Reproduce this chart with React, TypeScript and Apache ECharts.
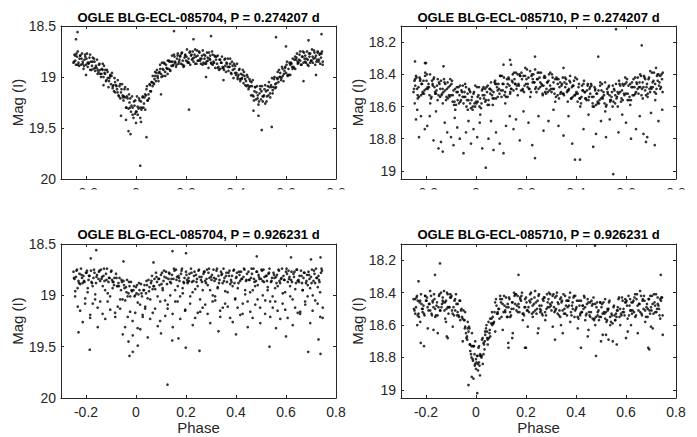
import React, { useEffect, useRef } from "react";
import * as echarts from "echarts";

const titles = [
  "OGLE BLG-ECL-085704, P = 0.274207 d",
  "OGLE BLG-ECL-085710, P = 0.274207 d",
  "OGLE BLG-ECL-085704, P = 0.926231 d",
  "OGLE BLG-ECL-085710, P = 0.926231 d",
];
const phaseTicks = [-0.2, 0, 0.2, 0.4, 0.6, 0.8];
const magTicks704 = [18.5, 19, 19.5, 20];
const magTicks710 = [18.2, 18.4, 18.6, 18.8, 19];
const phaseRange = [-0.3, 0.8];
const magRange704 = [18.5, 20];
const magRange710 = [18.1, 19.05];

// OGLE BLG-ECL-085704 folded with P = 0.274207 d
const star704P1 = [
[-0.25,18.86],[-0.246,18.78],[-0.243,18.84],[-0.24,18.88],[-0.236,18.80],[-0.233,18.75],
[-0.23,18.86],[-0.226,18.82],[-0.223,18.79],[-0.22,18.88],[-0.216,18.77],[-0.213,18.85],
[-0.21,18.92],[-0.206,18.83],[-0.203,18.80],[-0.2,18.88],[-0.196,18.77],[-0.193,18.90],
[-0.19,18.87],[-0.186,18.81],[-0.183,18.93],[-0.18,18.85],[-0.176,18.89],[-0.173,18.81],
[-0.17,18.92],[-0.166,18.85],[-0.163,18.94],[-0.16,18.89],[-0.156,18.83],[-0.153,18.93],
[-0.15,18.95],[-0.146,18.87],[-0.143,18.93],[-0.14,19.00],[-0.136,18.92],[-0.133,18.87],
[-0.13,19.00],[-0.126,18.96],[-0.123,18.93],[-0.12,19.04],[-0.116,18.93],[-0.113,19.01],
[-0.11,19.10],[-0.106,19.01],[-0.103,18.98],[-0.1,19.07],[-0.096,18.96],[-0.093,19.09],
[-0.09,19.08],[-0.086,19.01],[-0.083,19.15],[-0.08,19.08],[-0.076,19.12],[-0.073,19.03],
[-0.07,19.18],[-0.066,19.09],[-0.063,19.21],[-0.06,19.15],[-0.056,19.07],[-0.053,19.20],
[-0.05,19.23],[-0.046,19.12],[-0.043,19.20],[-0.04,19.30],[-0.036,19.19],[-0.033,19.12],
[-0.03,19.31],[-0.026,19.25],[-0.023,19.21],[-0.02,19.34],[-0.016,19.19],[-0.013,19.30],
[-0.01,19.40],[-0.006,19.28],[-0.003,19.23],[0,19.34],[0.004,19.19],[0.007,19.37],
[0.01,19.31],[0.014,19.23],[0.017,19.40],[0.02,19.24],[0.024,19.30],[0.027,19.19],
[0.03,19.30],[0.034,19.20],[0.037,19.32],[0.04,19.18],[0.044,19.09],[0.047,19.23],
[0.05,19.17],[0.054,19.07],[0.057,19.14],[0.06,19.14],[0.064,19.05],[0.067,18.99],
[0.07,19.06],[0.074,19.02],[0.077,18.99],[0.08,19.04],[0.084,18.93],[0.087,19.01],
[0.09,19.04],[0.094,18.95],[0.097,18.92],[0.1,18.97],[0.104,18.86],[0.107,18.99],
[0.11,18.93],[0.114,18.87],[0.117,18.99],[0.12,18.88],[0.124,18.92],[0.127,18.84],
[0.13,18.92],[0.134,18.85],[0.137,18.94],[0.14,18.85],[0.144,18.79],[0.147,18.89],
[0.15,18.88],[0.154,18.80],[0.157,18.86],[0.16,18.90],[0.164,18.82],[0.167,18.77],
[0.17,18.87],[0.174,18.83],[0.177,18.80],[0.18,18.87],[0.184,18.76],[0.187,18.84],
[0.19,18.90],[0.194,18.81],[0.197,18.78],[0.2,18.84],[0.204,18.73],[0.207,18.86],
[0.21,18.82],[0.214,18.76],[0.217,18.88],[0.22,18.79],[0.224,18.83],[0.227,18.75],
[0.23,18.85],[0.234,18.78],[0.237,18.87],[0.24,18.80],[0.244,18.74],[0.247,18.84],
[0.25,18.84],[0.254,18.76],[0.257,18.82],[0.26,18.87],[0.264,18.79],[0.267,18.74],
[0.27,18.86],[0.274,18.82],[0.277,18.79],[0.28,18.87],[0.284,18.76],[0.287,18.84],
[0.29,18.91],[0.294,18.82],[0.297,18.79],[0.3,18.86],[0.304,18.75],[0.307,18.88],
[0.31,18.85],[0.314,18.79],[0.317,18.91],[0.32,18.83],[0.324,18.87],[0.327,18.79],
[0.33,18.90],[0.334,18.83],[0.337,18.92],[0.34,18.86],[0.344,18.80],[0.347,18.90],
[0.35,18.91],[0.354,18.83],[0.357,18.89],[0.36,18.95],[0.364,18.87],[0.367,18.82],
[0.37,18.94],[0.374,18.90],[0.377,18.87],[0.38,18.96],[0.384,18.85],[0.387,18.93],
[0.39,19.01],[0.394,18.92],[0.397,18.89],[0.4,18.98],[0.404,18.87],[0.407,19.00],
[0.41,18.98],[0.414,18.92],[0.417,19.04],[0.42,18.97],[0.424,19.01],[0.427,18.93],
[0.43,19.06],[0.434,18.99],[0.437,19.08],[0.44,19.04],[0.444,18.98],[0.447,19.08],
[0.45,19.12],[0.454,19.02],[0.457,19.09],[0.46,19.18],[0.464,19.09],[0.467,19.03],
[0.47,19.19],[0.474,19.14],[0.477,19.10],[0.48,19.22],[0.484,19.09],[0.487,19.18],
[0.49,19.27],[0.494,19.16],[0.497,19.12],[0.5,19.22],[0.504,19.09],[0.507,19.24],
[0.51,19.19],[0.514,19.12],[0.517,19.26],[0.52,19.14],[0.524,19.19],[0.527,19.09],
[0.53,19.18],[0.534,19.10],[0.537,19.20],[0.54,19.08],[0.544,19.01],[0.547,19.13],
[0.55,19.10],[0.554,19.00],[0.557,19.07],[0.56,19.10],[0.564,19.01],[0.567,18.95],
[0.57,19.05],[0.574,19.00],[0.577,18.96],[0.58,19.03],[0.584,18.90],[0.587,18.99],
[0.59,19.04],[0.594,18.94],[0.597,18.90],[0.6,18.96],[0.604,18.85],[0.607,18.98],
[0.61,18.92],[0.614,18.86],[0.617,18.98],[0.62,18.86],[0.624,18.90],[0.627,18.82],
[0.63,18.90],[0.634,18.83],[0.637,18.92],[0.64,18.83],[0.644,18.77],[0.647,18.87],
[0.65,18.86],[0.654,18.78],[0.657,18.84],[0.66,18.88],[0.664,18.80],[0.667,18.75],
[0.67,18.86],[0.674,18.82],[0.677,18.79],[0.68,18.86],[0.684,18.75],[0.687,18.83],
[0.69,18.89],[0.694,18.80],[0.697,18.77],[0.7,18.84],[0.704,18.73],[0.707,18.86],
[0.71,18.82],[0.714,18.76],[0.717,18.88],[0.72,18.79],[0.724,18.83],[0.727,18.75],
[0.73,18.85],[0.734,18.78],[0.737,18.87],[0.74,18.81],[0.744,18.75],[0.747,18.85],
[-0.234,18.56],[0.152,18.55],[0.56,18.61],[0.742,18.58],[0.017,19.87],[-0.03,19.53],
[-0.022,19.56],[0.042,19.59],[0.503,19.52],[0.543,19.49],[0.212,19.32],[-0.13,19.08],
[0.49,19.38],[0.47,19.33],[-0.06,19.38],[-0.04,19.42],[0.0,19.45],[0.02,19.44],
[0.67,19.04],[0.72,18.98],[-0.2,18.98],[0.1,19.17],[0.35,19.03],[0.28,19.0],
[0.6,18.7],[0.3,18.6],[0.23,18.63],[-0.24,18.63],[0.69,18.64],
];
const star704P1b = [
[-0.248,18.85],[-0.2435,18.79],[-0.238,18.77],[-0.2335,18.88],[-0.228,18.89],[-0.2235,18.79],
[-0.218,18.82],[-0.2135,18.87],[-0.208,18.89],[-0.2035,18.78],[-0.198,18.82],[-0.1935,18.86],
[-0.188,18.86],[-0.1835,18.78],[-0.178,18.93],[-0.1735,18.85],[-0.168,18.82],[-0.1635,18.91],
[-0.158,18.91],[-0.1535,18.97],[-0.148,18.88],[-0.1435,18.97],[-0.138,18.97],[-0.1335,18.93],
[-0.128,18.89],[-0.1235,18.97],[-0.118,19.03],[-0.1135,18.95],[-0.108,19.04],[-0.1035,18.99],
[-0.098,18.99],[-0.0935,19.11],[-0.088,19.14],[-0.0835,19.05],[-0.078,19.09],[-0.0735,19.15],
[-0.068,19.19],[-0.0635,19.07],[-0.058,19.12],[-0.0535,19.18],[-0.048,19.19],[-0.0435,19.10],
[-0.038,19.30],[-0.0335,19.21],[-0.028,19.17],[-0.0235,19.30],[-0.018,19.28],[-0.0135,19.37],
[-0.008,19.24],[-0.0035,19.36],[0.002,19.34],[0.0065,19.29],[0.012,19.21],[0.0165,19.30],
[0.022,19.32],[0.0265,19.20],[0.032,19.26],[0.0365,19.17],[0.042,19.12],[0.0465,19.23],
[0.052,19.21],[0.0565,19.08],[0.062,19.05],[0.0665,19.09],[0.072,19.07],[0.0765,18.95],
[0.082,18.96],[0.0865,18.99],[0.092,18.96],[0.0965,18.88],[0.102,19.00],[0.1065,18.92],
[0.112,18.86],[0.1165,18.95],[0.122,18.91],[0.1265,18.97],[0.132,18.84],[0.1365,18.93],
[0.142,18.89],[0.1465,18.85],[0.152,18.78],[0.1565,18.85],[0.162,18.88],[0.1665,18.79],
[0.172,18.85],[0.1765,18.79],[0.182,18.77],[0.1865,18.88],[0.192,18.89],[0.1965,18.79],
[0.202,18.80],[0.2065,18.85],[0.212,18.86],[0.2165,18.75],[0.222,18.78],[0.2265,18.82],
[0.232,18.81],[0.2365,18.73],[0.242,18.87],[0.2465,18.79],[0.252,18.75],[0.2565,18.84],
[0.262,18.82],[0.2665,18.88],[0.272,18.78],[0.2765,18.87],[0.282,18.85],[0.2865,18.81],
[0.292,18.76],[0.2965,18.83],[0.302,18.87],[0.3065,18.78],[0.312,18.86],[0.3165,18.80],
[0.322,18.80],[0.3265,18.91],[0.332,18.93],[0.3365,18.83],[0.342,18.86],[0.3465,18.91],
[0.352,18.93],[0.3565,18.82],[0.362,18.86],[0.3665,18.90],[0.372,18.90],[0.3765,18.82],
[0.382,18.97],[0.3865,18.89],[0.392,18.87],[0.3965,18.96],[0.402,18.96],[0.4065,19.02],
[0.412,18.93],[0.4165,19.02],[0.422,19.02],[0.4265,18.98],[0.432,18.95],[0.4365,19.02],
[0.442,19.09],[0.4465,19.00],[0.452,19.10],[0.4565,19.04],[0.462,19.05],[0.4665,19.18],
[0.472,19.23],[0.4765,19.10],[0.482,19.15],[0.4865,19.21],[0.492,19.24],[0.4965,19.09],
[0.502,19.14],[0.5065,19.19],[0.512,19.18],[0.5165,19.08],[0.522,19.24],[0.5265,19.13],
[0.532,19.05],[0.5365,19.16],[0.542,19.10],[0.5465,19.16],[0.552,19.02],[0.5565,19.11],
[0.562,19.06],[0.5665,19.02],[0.572,18.93],[0.5765,19.00],[0.582,19.01],[0.5865,18.92],
[0.592,18.97],[0.5965,18.91],[0.602,18.88],[0.6065,18.99],[0.612,18.98],[0.6165,18.88],
[0.622,18.87],[0.6265,18.92],[0.632,18.91],[0.6365,18.80],[0.642,18.81],[0.6465,18.85],
[0.652,18.83],[0.6565,18.75],[0.662,18.88],[0.6665,18.80],[0.672,18.76],[0.6765,18.85],
[0.682,18.82],[0.6865,18.88],[0.692,18.77],[0.6965,18.86],[0.702,18.84],[0.7065,18.80],
[0.712,18.74],[0.7165,18.81],[0.722,18.85],[0.7265,18.76],[0.732,18.83],[0.7365,18.77],
[0.742,18.77],[0.7465,18.88],
];

// OGLE BLG-ECL-085710 folded with P = 0.274207 d
const star710P1 = [
[-0.25,18.51],[-0.246,18.44],[-0.243,18.47],[-0.24,18.41],[-0.236,18.49],[-0.233,18.55],
[-0.23,18.48],[-0.226,18.42],[-0.223,18.43],[-0.22,18.53],[-0.216,18.46],[-0.213,18.52],
[-0.21,18.44],[-0.206,18.50],[-0.203,18.39],[-0.2,18.49],[-0.196,18.40],[-0.193,18.49],
[-0.19,18.46],[-0.186,18.53],[-0.183,18.58],[-0.18,18.55],[-0.176,18.44],[-0.173,18.47],
[-0.17,18.43],[-0.166,18.48],[-0.163,18.52],[-0.16,18.52],[-0.156,18.47],[-0.153,18.43],
[-0.15,18.53],[-0.146,18.46],[-0.143,18.49],[-0.14,18.44],[-0.136,18.52],[-0.133,18.58],
[-0.13,18.51],[-0.126,18.45],[-0.123,18.46],[-0.12,18.56],[-0.116,18.49],[-0.113,18.55],
[-0.11,18.48],[-0.106,18.54],[-0.103,18.43],[-0.1,18.53],[-0.096,18.44],[-0.093,18.53],
[-0.09,18.50],[-0.086,18.57],[-0.083,18.62],[-0.08,18.59],[-0.076,18.48],[-0.073,18.51],
[-0.07,18.48],[-0.066,18.53],[-0.063,18.57],[-0.06,18.56],[-0.056,18.51],[-0.053,18.47],
[-0.05,18.58],[-0.046,18.51],[-0.043,18.54],[-0.04,18.48],[-0.036,18.56],[-0.033,18.62],
[-0.03,18.56],[-0.026,18.50],[-0.023,18.51],[-0.02,18.61],[-0.016,18.54],[-0.013,18.60],
[-0.01,18.52],[-0.006,18.58],[-0.003,18.47],[0,18.57],[0.004,18.48],[0.007,18.57],
[0.01,18.53],[0.014,18.60],[0.017,18.65],[0.02,18.61],[0.024,18.50],[0.027,18.53],
[0.03,18.48],[0.034,18.53],[0.037,18.57],[0.04,18.56],[0.044,18.51],[0.047,18.47],
[0.05,18.56],[0.054,18.49],[0.057,18.52],[0.06,18.45],[0.064,18.53],[0.067,18.59],
[0.07,18.51],[0.074,18.45],[0.077,18.46],[0.08,18.55],[0.084,18.48],[0.087,18.54],
[0.09,18.46],[0.094,18.52],[0.097,18.41],[0.1,18.50],[0.104,18.41],[0.107,18.50],
[0.11,18.46],[0.114,18.53],[0.117,18.58],[0.12,18.54],[0.124,18.43],[0.127,18.46],
[0.13,18.42],[0.134,18.47],[0.137,18.51],[0.14,18.49],[0.144,18.44],[0.147,18.40],
[0.15,18.50],[0.154,18.43],[0.157,18.46],[0.16,18.39],[0.164,18.47],[0.167,18.53],
[0.17,18.46],[0.174,18.40],[0.177,18.41],[0.18,18.50],[0.184,18.43],[0.187,18.49],
[0.19,18.41],[0.194,18.47],[0.197,18.36],[0.2,18.46],[0.204,18.37],[0.207,18.46],
[0.21,18.42],[0.214,18.49],[0.217,18.54],[0.22,18.51],[0.224,18.40],[0.227,18.43],
[0.23,18.40],[0.234,18.45],[0.237,18.49],[0.24,18.48],[0.244,18.43],[0.247,18.39],
[0.25,18.49],[0.254,18.42],[0.257,18.45],[0.26,18.39],[0.264,18.47],[0.267,18.53],
[0.27,18.47],[0.274,18.41],[0.277,18.42],[0.28,18.52],[0.284,18.45],[0.287,18.51],
[0.29,18.44],[0.294,18.50],[0.297,18.39],[0.3,18.49],[0.304,18.40],[0.307,18.49],
[0.31,18.45],[0.314,18.52],[0.317,18.57],[0.32,18.54],[0.324,18.43],[0.327,18.46],
[0.33,18.43],[0.334,18.48],[0.337,18.52],[0.34,18.51],[0.344,18.46],[0.347,18.42],
[0.35,18.52],[0.354,18.45],[0.357,18.48],[0.36,18.43],[0.364,18.51],[0.367,18.57],
[0.37,18.50],[0.374,18.44],[0.377,18.45],[0.38,18.55],[0.384,18.48],[0.387,18.54],
[0.39,18.47],[0.394,18.53],[0.397,18.42],[0.4,18.52],[0.404,18.43],[0.407,18.52],
[0.41,18.48],[0.414,18.55],[0.417,18.60],[0.42,18.58],[0.424,18.47],[0.427,18.50],
[0.43,18.46],[0.434,18.51],[0.437,18.55],[0.44,18.55],[0.444,18.50],[0.447,18.46],
[0.45,18.56],[0.454,18.49],[0.457,18.52],[0.46,18.46],[0.464,18.54],[0.467,18.60],
[0.47,18.54],[0.474,18.48],[0.477,18.49],[0.48,18.59],[0.484,18.52],[0.487,18.58],
[0.49,18.50],[0.494,18.56],[0.497,18.45],[0.5,18.55],[0.504,18.46],[0.507,18.55],
[0.51,18.51],[0.514,18.58],[0.517,18.63],[0.52,18.60],[0.524,18.49],[0.527,18.52],
[0.53,18.48],[0.534,18.53],[0.537,18.57],[0.54,18.56],[0.544,18.51],[0.547,18.47],
[0.55,18.57],[0.554,18.50],[0.557,18.53],[0.56,18.46],[0.564,18.54],[0.567,18.60],
[0.57,18.52],[0.574,18.46],[0.577,18.47],[0.58,18.57],[0.584,18.50],[0.587,18.56],
[0.59,18.47],[0.594,18.53],[0.597,18.42],[0.6,18.52],[0.604,18.43],[0.607,18.52],
[0.61,18.47],[0.614,18.54],[0.617,18.59],[0.62,18.56],[0.624,18.45],[0.627,18.48],
[0.63,18.43],[0.634,18.48],[0.637,18.52],[0.64,18.51],[0.644,18.46],[0.647,18.42],
[0.65,18.52],[0.654,18.45],[0.657,18.48],[0.66,18.41],[0.664,18.49],[0.667,18.55],
[0.67,18.48],[0.674,18.42],[0.677,18.43],[0.68,18.53],[0.684,18.46],[0.687,18.52],
[0.69,18.43],[0.694,18.49],[0.697,18.38],[0.7,18.48],[0.704,18.39],[0.707,18.48],
[0.71,18.44],[0.714,18.51],[0.717,18.56],[0.72,18.52],[0.724,18.41],[0.727,18.44],
[0.73,18.40],[0.734,18.45],[0.737,18.49],[0.74,18.48],[0.744,18.43],[0.747,18.39],
[-0.245,18.58],[-0.235,18.62],[-0.228,18.79],[-0.22,18.66],[-0.205,18.74],[-0.195,18.72],
[-0.185,18.66],[-0.17,18.81],[-0.16,18.63],[-0.15,18.86],[-0.14,18.82],[-0.133,18.88],
[-0.125,18.70],[-0.115,18.76],[-0.1,18.79],[-0.09,18.84],[-0.085,18.67],[-0.075,18.73],
[-0.065,18.80],[-0.05,18.89],[-0.04,18.76],[-0.03,18.69],[-0.02,18.83],[-0.01,18.74],
[0.005,18.79],[0.015,18.70],[0.025,18.86],[0.039,18.98],[0.05,18.80],[0.06,18.69],
[0.07,18.87],[0.08,18.76],[0.095,18.83],[0.11,18.89],[0.12,18.72],[0.135,18.66],
[0.15,18.74],[0.16,18.68],[0.175,18.81],[0.19,18.63],[0.21,18.70],[0.225,18.84],
[0.236,18.92],[0.25,18.66],[0.27,18.75],[0.29,18.69],[0.31,18.62],[0.33,18.72],
[0.35,18.78],[0.37,18.66],[0.385,18.83],[0.396,18.93],[0.416,18.93],[0.43,18.74],
[0.45,18.65],[0.469,18.85],[0.48,18.77],[0.5,18.69],[0.52,18.79],[0.535,18.68],
[0.549,19.02],[0.57,18.76],[0.585,18.65],[0.6,18.70],[0.62,18.80],[0.64,18.74],
[0.655,18.66],[0.67,18.77],[0.68,18.82],[0.685,18.79],[0.7,18.64],[0.715,18.84],
[0.73,18.69],[0.745,18.62],[-0.24,18.68],
[-0.244,18.32],[-0.204,18.33],[-0.2,18.33],[0.136,18.31],[0.236,18.29],[0.11,18.34],
[0.489,18.29],[0.663,18.22],[0.56,18.12],[0.72,18.36],[0.35,18.36],[-0.13,18.35],[0.14,18.34],
];
const star710P1b = [
[-0.248,18.49],[-0.2435,18.43],[-0.238,18.42],[-0.2335,18.53],[-0.228,18.54],[-0.2235,18.44],
[-0.218,18.46],[-0.2135,18.51],[-0.208,18.52],[-0.2035,18.41],[-0.198,18.44],[-0.1935,18.48],
[-0.188,18.48],[-0.1835,18.40],[-0.178,18.54],[-0.1735,18.46],[-0.168,18.42],[-0.1635,18.51],
[-0.158,18.50],[-0.1535,18.56],[-0.148,18.45],[-0.1435,18.54],[-0.138,18.53],[-0.1335,18.49],
[-0.128,18.43],[-0.1235,18.50],[-0.118,18.54],[-0.1135,18.45],[-0.108,18.53],[-0.1035,18.47],
[-0.098,18.46],[-0.0935,18.57],[-0.088,18.59],[-0.0835,18.49],[-0.078,18.51],[-0.0735,18.56],
[-0.068,18.58],[-0.0635,18.47],[-0.058,18.50],[-0.0535,18.54],[-0.048,18.54],[-0.0435,18.46],
[-0.038,18.60],[-0.0335,18.52],[-0.028,18.49],[-0.0235,18.58],[-0.018,18.56],[-0.0135,18.62],
[-0.008,18.51],[-0.0035,18.60],[0.002,18.58],[0.0065,18.54],[0.012,18.48],[0.0165,18.55],
[0.022,18.58],[0.0265,18.49],[0.032,18.55],[0.0365,18.49],[0.042,18.48],[0.0465,18.59],
[0.052,18.59],[0.0565,18.49],[0.062,18.50],[0.0665,18.55],[0.072,18.55],[0.0765,18.44],
[0.082,18.46],[0.0865,18.50],[0.092,18.49],[0.0965,18.41],[0.102,18.54],[0.1065,18.46],
[0.112,18.42],[0.1165,18.51],[0.122,18.48],[0.1265,18.54],[0.132,18.43],[0.1365,18.52],
[0.142,18.49],[0.1465,18.45],[0.152,18.39],[0.1565,18.46],[0.162,18.49],[0.1665,18.40],
[0.172,18.47],[0.1765,18.41],[0.182,18.39],[0.1865,18.50],[0.192,18.51],[0.1965,18.41],
[0.202,18.43],[0.2065,18.48],[0.212,18.49],[0.2165,18.38],[0.222,18.41],[0.2265,18.45],
[0.232,18.45],[0.2365,18.37],[0.242,18.51],[0.2465,18.43],[0.252,18.39],[0.2565,18.48],
[0.262,18.46],[0.2665,18.52],[0.272,18.42],[0.2765,18.51],[0.282,18.49],[0.2865,18.45],
[0.292,18.40],[0.2965,18.47],[0.302,18.51],[0.3065,18.42],[0.312,18.49],[0.3165,18.43],
[0.322,18.42],[0.3265,18.53],[0.332,18.55],[0.3365,18.45],[0.342,18.47],[0.3465,18.52],
[0.352,18.53],[0.3565,18.42],[0.362,18.46],[0.3665,18.50],[0.372,18.49],[0.3765,18.41],
[0.382,18.55],[0.3865,18.47],[0.392,18.44],[0.3965,18.53],[0.402,18.51],[0.4065,18.57],
[0.412,18.46],[0.4165,18.55],[0.422,18.54],[0.4265,18.50],[0.432,18.44],[0.4365,18.51],
[0.442,18.56],[0.4465,18.47],[0.452,18.54],[0.4565,18.48],[0.462,18.47],[0.4665,18.58],
[0.472,18.60],[0.4765,18.50],[0.482,18.52],[0.4865,18.57],[0.492,18.58],[0.4965,18.47],
[0.502,18.50],[0.5065,18.54],[0.512,18.53],[0.5165,18.45],[0.522,18.59],[0.5265,18.51],
[0.532,18.47],[0.5365,18.56],[0.542,18.54],[0.5465,18.60],[0.552,18.49],[0.5565,18.58],
[0.562,18.55],[0.5665,18.51],[0.572,18.44],[0.5765,18.51],[0.582,18.55],[0.5865,18.46],
[0.592,18.52],[0.5965,18.46],[0.602,18.45],[0.6065,18.56],[0.612,18.56],[0.6165,18.46],
[0.622,18.48],[0.6265,18.53],[0.632,18.53],[0.6365,18.42],[0.642,18.45],[0.6465,18.49],
[0.652,18.48],[0.6565,18.40],[0.662,18.53],[0.6665,18.45],[0.672,18.41],[0.6765,18.50],
[0.682,18.48],[0.6865,18.54],[0.692,18.42],[0.6965,18.51],[0.702,18.49],[0.7065,18.45],
[0.712,18.39],[0.7165,18.46],[0.722,18.49],[0.7265,18.40],[0.732,18.47],[0.7365,18.41],
[0.742,18.40],[0.7465,18.51],
];

// OGLE BLG-ECL-085704 folded with P = 0.926231 d
const star704P2 = [
[-0.25,18.77],[-0.246,18.84],[-0.243,18.96],[-0.24,18.82],[-0.236,18.75],[-0.233,19.11],
[-0.23,18.86],[-0.226,18.79],[-0.223,18.89],[-0.22,18.74],[-0.216,18.83],[-0.213,19.26],
[-0.21,18.81],[-0.206,18.87],[-0.203,19.03],[-0.2,18.78],[-0.196,18.76],[-0.193,18.93],
[-0.19,18.85],[-0.186,18.81],[-0.183,19.19],[-0.18,18.76],[-0.176,18.88],[-0.173,19.08],
[-0.17,18.83],[-0.166,18.78],[-0.163,18.99],[-0.16,18.88],[-0.156,18.80],[-0.153,19.31],
[-0.15,18.84],[-0.146,18.76],[-0.143,19.06],[-0.14,18.75],[-0.136,18.82],[-0.133,18.91],
[-0.13,18.81],[-0.126,18.86],[-0.123,19.23],[-0.12,18.79],[-0.116,18.74],[-0.113,18.98],
[-0.11,18.87],[-0.106,18.83],[-0.103,19.14],[-0.1,18.77],[-0.096,18.85],[-0.093,18.87],
[-0.09,18.87],[-0.086,18.83],[-0.083,19.21],[-0.08,18.79],[-0.076,18.91],[-0.073,19.11],
[-0.07,18.88],[-0.066,18.83],[-0.063,19.04],[-0.06,18.95],[-0.056,18.87],[-0.053,19.38],
[-0.05,18.86],[-0.046,18.93],[-0.043,19.05],[-0.04,18.92],[-0.036,18.85],[-0.033,19.21],
[-0.03,18.98],[-0.026,18.91],[-0.023,19.01],[-0.02,18.87],[-0.016,18.96],[-0.013,19.39],
[-0.01,18.95],[-0.006,19.01],[-0.003,19.17],[0,18.92],[0.004,18.90],[0.007,19.07],
[0.01,18.99],[0.014,18.95],[0.017,19.33],[0.02,18.89],[0.024,19.01],[0.027,19.21],
[0.03,18.95],[0.034,18.90],[0.037,19.11],[0.04,18.98],[0.044,18.90],[0.047,19.41],
[0.05,18.85],[0.054,18.92],[0.057,19.04],[0.06,18.88],[0.064,18.81],[0.067,19.17],
[0.07,18.91],[0.074,18.84],[0.077,18.94],[0.08,18.78],[0.084,18.87],[0.087,19.30],
[0.09,18.84],[0.094,18.90],[0.097,19.06],[0.1,18.80],[0.104,18.78],[0.107,18.95],
[0.11,18.86],[0.114,18.82],[0.117,19.20],[0.12,18.77],[0.124,18.89],[0.127,19.09],
[0.13,18.84],[0.134,18.79],[0.137,19.00],[0.14,18.88],[0.144,18.80],[0.147,19.31],
[0.15,18.84],[0.154,18.76],[0.157,19.06],[0.16,18.75],[0.164,18.82],[0.167,18.91],
[0.17,18.81],[0.174,18.86],[0.177,19.23],[0.18,18.79],[0.184,18.74],[0.187,18.98],
[0.19,18.87],[0.194,18.83],[0.197,19.14],[0.2,18.77],[0.204,18.85],[0.207,18.87],
[0.21,18.83],[0.214,18.79],[0.217,19.01],[0.22,18.74],[0.224,18.87],[0.227,19.29],
[0.23,18.86],[0.234,18.77],[0.237,18.94],[0.24,18.80],[0.244,18.84],[0.247,19.17],
[0.25,18.76],[0.254,18.82],[0.257,19.16],[0.26,18.85],[0.264,18.87],[0.267,18.95],
[0.27,18.79],[0.274,18.77],[0.277,19.09],[0.28,18.88],[0.284,18.75],[0.287,18.90],
[0.29,18.78],[0.294,18.83],[0.297,19.27],[0.3,18.82],[0.304,18.80],[0.307,19.00],
[0.31,18.75],[0.314,18.86],[0.317,19.05],[0.32,18.84],[0.324,18.74],[0.327,18.92],
[0.33,18.81],[0.334,18.85],[0.337,19.21],[0.34,18.77],[0.344,18.79],[0.347,19.12],
[0.35,18.74],[0.354,18.83],[0.357,18.96],[0.36,18.81],[0.364,18.87],[0.367,19.11],
[0.37,18.78],[0.374,18.76],[0.377,18.89],[0.38,18.85],[0.384,18.81],[0.387,19.26],
[0.39,18.76],[0.394,18.88],[0.397,19.03],[0.4,18.83],[0.404,18.78],[0.407,18.93],
[0.41,18.88],[0.414,18.80],[0.417,19.19],[0.42,18.77],[0.424,18.84],[0.427,19.08],
[0.43,18.82],[0.434,18.75],[0.437,18.99],[0.44,18.86],[0.444,18.79],[0.447,19.31],
[0.45,18.77],[0.454,18.85],[0.457,19.16],[0.46,18.83],[0.464,18.79],[0.467,18.95],
[0.47,18.74],[0.474,18.87],[0.477,19.09],[0.48,18.86],[0.484,18.77],[0.487,18.90],
[0.49,18.80],[0.494,18.84],[0.497,19.27],[0.5,18.84],[0.504,18.76],[0.507,19.00],
[0.51,18.75],[0.514,18.82],[0.517,19.05],[0.52,18.81],[0.524,18.86],[0.527,18.92],
[0.53,18.79],[0.534,18.74],[0.537,19.21],[0.54,18.87],[0.544,18.83],[0.547,19.12],
[0.55,18.78],[0.554,18.83],[0.557,19.06],[0.56,18.82],[0.564,18.80],[0.567,18.91],
[0.57,18.75],[0.574,18.86],[0.577,19.23],[0.58,18.84],[0.584,18.74],[0.587,18.98],
[0.59,18.81],[0.594,18.85],[0.597,19.14],[0.6,18.77],[0.604,18.79],[0.607,18.87],
[0.61,18.76],[0.614,18.82],[0.617,19.01],[0.62,18.85],[0.624,18.87],[0.627,19.29],
[0.63,18.79],[0.634,18.77],[0.637,18.94],[0.64,18.88],[0.644,18.75],[0.647,19.17],
[0.65,18.85],[0.654,18.81],[0.657,19.16],[0.66,18.76],[0.664,18.88],[0.667,18.95],
[0.67,18.83],[0.674,18.78],[0.677,19.09],[0.68,18.88],[0.684,18.80],[0.687,18.90],
[0.69,18.77],[0.694,18.84],[0.697,19.27],[0.7,18.82],[0.704,18.75],[0.707,19.00],
[0.71,18.86],[0.714,18.79],[0.717,19.05],[0.72,18.74],[0.724,18.83],[0.727,18.92],
[0.73,18.81],[0.734,18.87],[0.737,19.21],[0.74,18.78],[0.744,18.76],[0.747,19.12],
[-0.185,19.53],[-0.026,19.59],[-0.013,19.55],[0.007,19.49],[0.126,19.87],[0.199,19.51],
[0.254,19.54],[0.534,19.5],[0.689,19.55],[0.738,19.57],[-0.159,18.56],[-0.181,18.64],
[0.146,18.57],[0.2,18.59],[0.483,18.62],[0.738,18.63],[0.7,18.65],[0.62,18.63],
[-0.05,18.67],[0.07,18.68],[-0.03,19.45],[0.145,19.44],[0.17,19.42],[0.1,19.37],
[-0.23,19.36],[0.73,19.43],[0.56,19.32],[0.4,19.38],[0.33,19.35],[0.6,19.4],
];
const star704P2b = [
[-0.248,18.83],[-0.2435,19.01],[-0.238,18.76],[-0.2335,18.93],[-0.228,18.88],[-0.2235,19.15],
[-0.218,18.80],[-0.2135,18.88],[-0.208,18.86],[-0.2035,19.08],[-0.198,18.78],[-0.1935,18.97],
[-0.188,18.81],[-0.1835,19.22],[-0.178,18.87],[-0.1735,18.91],[-0.168,18.75],[-0.1635,19.04],
[-0.158,18.82],[-0.1535,19.12],[-0.148,18.77],[-0.1435,18.86],[-0.138,18.84],[-0.1335,19.18],
[-0.128,18.74],[-0.1235,18.95],[-0.118,18.85],[-0.1135,19.06],[-0.108,18.83],[-0.1035,19.01],
[-0.098,18.76],[-0.0935,18.93],[-0.088,18.90],[-0.0835,19.17],[-0.078,18.83],[-0.0735,18.91],
[-0.068,18.91],[-0.0635,19.13],[-0.058,18.85],[-0.0535,19.04],[-0.048,18.90],[-0.0435,19.31],
[-0.038,18.97],[-0.0335,19.01],[-0.028,18.87],[-0.0235,19.16],[-0.018,18.95],[-0.0135,19.25],
[-0.008,18.91],[-0.0035,19.00],[0.002,18.98],[0.0065,19.32],[0.012,18.88],[0.0165,19.09],
[0.022,18.98],[0.0265,19.19],[0.032,18.95],[0.0365,19.13],[0.042,18.86],[0.0465,19.03],
[0.052,18.96],[0.0565,19.23],[0.062,18.86],[0.0665,18.94],[0.072,18.91],[0.0765,19.13],
[0.082,18.82],[0.0865,19.01],[0.092,18.84],[0.0965,19.25],[0.102,18.89],[0.1065,18.93],
[0.112,18.76],[0.1165,19.05],[0.122,18.83],[0.1265,19.13],[0.132,18.78],[0.1365,18.87],
[0.142,18.84],[0.1465,19.18],[0.152,18.74],[0.1565,18.95],[0.162,18.85],[0.1665,19.06],
[0.172,18.83],[0.1765,19.01],[0.182,18.76],[0.1865,18.93],[0.192,18.88],[0.1965,19.15],
[0.202,18.80],[0.2065,18.88],[0.212,18.86],[0.2165,19.08],[0.222,18.78],[0.2265,18.97],
[0.232,18.81],[0.2365,19.22],[0.242,18.87],[0.2465,18.91],[0.252,18.75],[0.2565,19.04],
[0.262,18.82],[0.2665,19.12],[0.272,18.77],[0.2765,18.86],[0.282,18.84],[0.2865,19.18],
[0.292,18.74],[0.2965,18.95],[0.302,18.85],[0.3065,19.06],[0.312,18.83],[0.3165,19.01],
[0.322,18.76],[0.3265,18.93],[0.332,18.88],[0.3365,19.15],[0.342,18.80],[0.3465,18.88],
[0.352,18.86],[0.3565,19.08],[0.362,18.78],[0.3665,18.97],[0.372,18.81],[0.3765,19.22],
[0.382,18.87],[0.3865,18.91],[0.392,18.75],[0.3965,19.04],[0.402,18.82],[0.4065,19.12],
[0.412,18.77],[0.4165,18.86],[0.422,18.84],[0.4265,19.18],[0.432,18.74],[0.4365,18.95],
[0.442,18.85],[0.4465,19.06],[0.452,18.85],[0.4565,18.97],[0.462,18.74],[0.4665,19.22],
[0.472,18.84],[0.4765,18.91],[0.482,18.77],[0.4865,19.04],[0.492,18.82],[0.4965,19.12],
[0.502,18.75],[0.5065,18.86],[0.512,18.87],[0.5165,19.18],[0.522,18.81],[0.5265,18.95],
[0.532,18.78],[0.5365,19.06],[0.542,18.86],[0.5465,19.01],[0.552,18.80],[0.5565,18.93],
[0.562,18.88],[0.5665,19.15],[0.572,18.76],[0.5765,18.88],[0.582,18.83],[0.5865,19.08],
[0.592,18.85],[0.5965,18.97],[0.602,18.74],[0.6065,19.22],[0.612,18.84],[0.6165,18.91],
[0.622,18.77],[0.6265,19.04],[0.632,18.82],[0.6365,19.12],[0.642,18.75],[0.6465,18.86],
[0.652,18.87],[0.6565,19.18],[0.662,18.81],[0.6665,18.95],[0.672,18.78],[0.6765,19.06],
[0.682,18.86],[0.6865,19.01],[0.692,18.80],[0.6965,18.93],[0.702,18.88],[0.7065,19.15],
[0.712,18.76],[0.7165,18.88],[0.722,18.83],[0.7265,19.08],[0.732,18.85],[0.7365,18.97],
[0.742,18.74],[0.7465,19.22],
];

// OGLE BLG-ECL-085710 folded with P = 0.926231 d
const star710P2 = [
[-0.25,18.44],[-0.246,18.51],[-0.243,18.53],[-0.24,18.49],[-0.236,18.42],[-0.233,18.45],
[-0.23,18.53],[-0.226,18.46],[-0.223,18.58],[-0.22,18.41],[-0.216,18.50],[-0.213,18.50],
[-0.21,18.48],[-0.206,18.54],[-0.203,18.42],[-0.2,18.45],[-0.196,18.43],[-0.193,18.62],
[-0.19,18.51],[-0.186,18.47],[-0.183,18.51],[-0.18,18.42],[-0.176,18.54],[-0.173,18.46],
[-0.17,18.49],[-0.166,18.44],[-0.163,18.55],[-0.16,18.54],[-0.156,18.46],[-0.153,18.65],
[-0.15,18.49],[-0.146,18.41],[-0.143,18.51],[-0.14,18.40],[-0.136,18.47],[-0.133,18.43],
[-0.13,18.46],[-0.126,18.51],[-0.123,18.56],[-0.12,18.45],[-0.116,18.40],[-0.113,18.49],
[-0.11,18.53],[-0.106,18.49],[-0.103,18.41],[-0.1,18.43],[-0.096,18.51],[-0.093,18.61],
[-0.09,18.49],[-0.086,18.45],[-0.083,18.51],[-0.08,18.41],[-0.076,18.54],[-0.073,18.47],
[-0.07,18.54],[-0.066,18.45],[-0.063,18.57],[-0.06,18.51],[-0.056,18.55],[-0.053,18.70],
[-0.05,18.51],[-0.046,18.57],[-0.043,18.61],[-0.04,18.65],[-0.036,18.67],[-0.033,18.58],
[-0.03,18.64],[-0.026,18.62],[-0.023,18.76],[-0.02,18.78],[-0.016,18.65],[-0.013,18.73],
[-0.01,18.73],[-0.006,18.78],[-0.003,18.70],[0,18.81],[0.004,18.79],[0.007,18.84],
[0.01,18.74],[0.014,18.85],[0.017,18.79],[0.02,18.79],[0.024,18.69],[0.027,18.84],
[0.03,18.71],[0.034,18.75],[0.037,18.66],[0.04,18.62],[0.044,18.64],[0.047,18.72],
[0.05,18.58],[0.054,18.65],[0.057,18.67],[0.06,18.59],[0.064,18.52],[0.067,18.55],
[0.07,18.59],[0.074,18.52],[0.077,18.64],[0.08,18.44],[0.084,18.53],[0.087,18.53],
[0.09,18.50],[0.094,18.56],[0.097,18.44],[0.1,18.46],[0.104,18.44],[0.107,18.63],
[0.11,18.52],[0.114,18.48],[0.117,18.52],[0.12,18.43],[0.124,18.55],[0.127,18.47],
[0.13,18.49],[0.134,18.44],[0.137,18.55],[0.14,18.54],[0.144,18.46],[0.147,18.65],
[0.15,18.50],[0.154,18.42],[0.157,18.41],[0.16,18.41],[0.164,18.48],[0.167,18.52],
[0.17,18.47],[0.174,18.52],[0.177,18.44],[0.18,18.45],[0.184,18.40],[0.187,18.57],
[0.19,18.53],[0.194,18.49],[0.197,18.49],[0.2,18.43],[0.204,18.51],[0.207,18.61],
[0.21,18.49],[0.214,18.45],[0.217,18.46],[0.22,18.40],[0.224,18.53],[0.227,18.55],
[0.23,18.52],[0.234,18.43],[0.237,18.51],[0.24,18.46],[0.244,18.50],[0.247,18.65],
[0.25,18.42],[0.254,18.48],[0.257,18.52],[0.26,18.51],[0.264,18.53],[0.267,18.44],
[0.27,18.45],[0.274,18.43],[0.277,18.57],[0.28,18.54],[0.284,18.41],[0.287,18.49],
[0.29,18.44],[0.294,18.49],[0.297,18.41],[0.3,18.48],[0.304,18.46],[0.307,18.61],
[0.31,18.41],[0.314,18.52],[0.317,18.51],[0.32,18.50],[0.324,18.40],[0.327,18.46],
[0.33,18.47],[0.334,18.51],[0.337,18.55],[0.34,18.43],[0.344,18.45],[0.347,18.65],
[0.35,18.41],[0.354,18.50],[0.357,18.53],[0.36,18.48],[0.364,18.54],[0.367,18.45],
[0.37,18.45],[0.374,18.43],[0.377,18.58],[0.38,18.52],[0.384,18.48],[0.387,18.50],
[0.39,18.43],[0.394,18.55],[0.397,18.42],[0.4,18.50],[0.404,18.45],[0.407,18.62],
[0.41,18.56],[0.414,18.48],[0.417,18.53],[0.42,18.45],[0.424,18.52],[0.427,18.48],
[0.43,18.50],[0.434,18.43],[0.437,18.57],[0.44,18.54],[0.444,18.47],[0.447,18.67],
[0.45,18.46],[0.454,18.54],[0.457,18.55],[0.46,18.52],[0.464,18.48],[0.467,18.47],
[0.47,18.43],[0.474,18.56],[0.477,18.60],[0.48,18.55],[0.484,18.46],[0.487,18.52],
[0.49,18.51],[0.494,18.55],[0.497,18.46],[0.5,18.55],[0.504,18.47],[0.507,18.66],
[0.51,18.46],[0.514,18.53],[0.517,18.56],[0.52,18.52],[0.524,18.57],[0.527,18.51],
[0.53,18.50],[0.534,18.45],[0.537,18.60],[0.54,18.58],[0.544,18.54],[0.547,18.70],
[0.55,18.49],[0.554,18.54],[0.557,18.57],[0.56,18.53],[0.564,18.51],[0.567,18.49],
[0.57,18.44],[0.574,18.55],[0.577,18.60],[0.58,18.53],[0.584,18.43],[0.587,18.52],
[0.59,18.50],[0.594,18.54],[0.597,18.44],[0.6,18.46],[0.604,18.48],[0.607,18.64],
[0.61,18.42],[0.614,18.48],[0.617,18.51],[0.62,18.51],[0.624,18.53],[0.627,18.46],
[0.63,18.45],[0.634,18.43],[0.637,18.55],[0.64,18.54],[0.644,18.41],[0.647,18.65],
[0.65,18.51],[0.654,18.47],[0.657,18.52],[0.66,18.42],[0.664,18.54],[0.667,18.44],
[0.67,18.50],[0.674,18.45],[0.677,18.58],[0.68,18.55],[0.684,18.47],[0.687,18.50],
[0.69,18.44],[0.694,18.51],[0.697,18.42],[0.7,18.49],[0.704,18.42],[0.707,18.62],
[0.71,18.53],[0.714,18.46],[0.717,18.52],[0.72,18.41],[0.724,18.50],[0.727,18.47],
[0.73,18.48],[0.734,18.54],[0.737,18.56],[0.74,18.45],[0.744,18.43],[0.747,18.66],
[-0.005,18.85],[0.0,18.87],[0.008,18.88],[-0.012,18.82],[0.012,18.83],[0.022,18.80],
[-0.018,18.80],[0.03,18.78],[-0.025,18.72],[0.035,18.70],[0.045,18.68],[0.055,18.63],
[-0.045,18.62],[-0.035,18.69],[0.065,18.60],
[-0.144,18.22],[-0.164,18.29],[-0.23,18.33],[0.17,18.29],[0.476,18.11],[0.739,18.29],
[-0.221,18.71],[-0.208,18.73],[0.48,18.79],[0.689,18.74],[0.693,18.75],[0.13,18.74],
[0.196,18.74],[0.42,18.74],[0.5,18.70],[-0.03,18.97],[0.005,19.02],[-0.017,18.92],
[-0.01,18.93],[0.016,18.91],[-0.117,18.67],[-0.113,18.68],[0.129,18.71],[0.316,18.69],
[0.53,18.69],[0.563,18.72],
[-0.235,18.60],[-0.17,18.63],[-0.12,18.58],[0.145,18.68],[0.2,18.74],[0.25,18.62],
[0.34,18.60],[0.45,18.63],[0.52,18.66],[0.6,18.68],[0.62,18.60],[0.7,18.61],
];
const star710P2b = [
[-0.248,18.50],[-0.2435,18.44],[-0.238,18.43],[-0.2335,18.54],[-0.228,18.55],[-0.2235,18.45],
[-0.218,18.47],[-0.2135,18.52],[-0.208,18.53],[-0.2035,18.42],[-0.198,18.45],[-0.1935,18.49],
[-0.188,18.47],[-0.1835,18.39],[-0.178,18.53],[-0.1735,18.45],[-0.168,18.41],[-0.1635,18.50],
[-0.158,18.48],[-0.1535,18.54],[-0.148,18.42],[-0.1435,18.51],[-0.138,18.49],[-0.1335,18.45],
[-0.128,18.39],[-0.1235,18.46],[-0.118,18.50],[-0.1135,18.41],[-0.108,18.49],[-0.1035,18.43],
[-0.098,18.42],[-0.0935,18.53],[-0.088,18.54],[-0.0835,18.44],[-0.078,18.47],[-0.0735,18.52],
[-0.068,18.55],[-0.0635,18.45],[-0.058,18.50],[-0.0535,18.56],[-0.048,18.57],[-0.0435,18.52],
[-0.038,18.68],[-0.0335,18.62],[-0.028,18.61],[-0.0235,18.72],[-0.018,18.73],[-0.0135,18.81],
[-0.008,18.73],[-0.0035,18.84],[0.002,18.83],[0.0065,18.79],[0.012,18.73],[0.0165,18.78],
[0.022,18.79],[0.0265,18.68],[0.032,18.72],[0.0365,18.64],[0.042,18.60],[0.0465,18.69],
[0.052,18.68],[0.0565,18.56],[0.062,18.56],[0.0665,18.59],[0.072,18.58],[0.0765,18.46],
[0.082,18.48],[0.0865,18.52],[0.092,18.50],[0.0965,18.42],[0.102,18.55],[0.1065,18.47],
[0.112,18.42],[0.1165,18.51],[0.122,18.49],[0.1265,18.55],[0.132,18.43],[0.1365,18.52],
[0.142,18.50],[0.1465,18.46],[0.152,18.40],[0.1565,18.47],[0.162,18.51],[0.1665,18.42],
[0.172,18.49],[0.1765,18.43],[0.182,18.42],[0.1865,18.53],[0.192,18.54],[0.1965,18.44],
[0.202,18.46],[0.2065,18.51],[0.212,18.52],[0.2165,18.41],[0.222,18.44],[0.2265,18.48],
[0.232,18.47],[0.2365,18.39],[0.242,18.53],[0.2465,18.45],[0.252,18.41],[0.2565,18.50],
[0.262,18.48],[0.2665,18.54],[0.272,18.43],[0.2765,18.52],[0.282,18.50],[0.2865,18.46],
[0.292,18.40],[0.2965,18.47],[0.302,18.51],[0.3065,18.42],[0.312,18.49],[0.3165,18.43],
[0.322,18.42],[0.3265,18.53],[0.332,18.54],[0.3365,18.44],[0.342,18.46],[0.3465,18.51],
[0.352,18.53],[0.3565,18.42],[0.362,18.45],[0.3665,18.49],[0.372,18.48],[0.3765,18.40],
[0.382,18.54],[0.3865,18.46],[0.392,18.42],[0.3965,18.51],[0.402,18.49],[0.4065,18.55],
[0.412,18.45],[0.4165,18.54],[0.422,18.52],[0.4265,18.48],[0.432,18.42],[0.4365,18.49],
[0.442,18.53],[0.4465,18.44],[0.452,18.52],[0.4565,18.46],[0.462,18.45],[0.4665,18.56],
[0.472,18.57],[0.4765,18.47],[0.482,18.49],[0.4865,18.54],[0.492,18.57],[0.4965,18.46],
[0.502,18.49],[0.5065,18.53],[0.512,18.52],[0.5165,18.44],[0.522,18.58],[0.5265,18.50],
[0.532,18.46],[0.5365,18.55],[0.542,18.53],[0.5465,18.59],[0.552,18.48],[0.5565,18.57],
[0.562,18.55],[0.5665,18.51],[0.572,18.43],[0.5765,18.50],[0.582,18.54],[0.5865,18.45],
[0.592,18.52],[0.5965,18.46],[0.602,18.45],[0.6065,18.56],[0.612,18.54],[0.6165,18.44],
[0.622,18.46],[0.6265,18.51],[0.632,18.52],[0.6365,18.41],[0.642,18.44],[0.6465,18.48],
[0.652,18.47],[0.6565,18.39],[0.662,18.53],[0.6665,18.45],[0.672,18.42],[0.6765,18.51],
[0.682,18.49],[0.6865,18.55],[0.692,18.44],[0.6965,18.53],[0.702,18.51],[0.7065,18.47],
[0.712,18.41],[0.7165,18.48],[0.722,18.52],[0.7265,18.43],[0.732,18.50],[0.7365,18.44],
[0.742,18.43],[0.7465,18.54],
];

const panelData = [
  [...star704P1, ...star704P1b],
  [...star710P1, ...star710P1b],
  [...star704P2, ...star704P2b],
  [...star710P2, ...star710P2b],
];

const FONT = "'Liberation Sans', Arial, Helvetica, sans-serif";
const AX = "#262626";

export default function App() {
  const ref = useRef<HTMLDivElement>(null);
  useEffect(() => {
    if (!ref.current) return;
    const chart = echarts.init(ref.current, undefined, { renderer: "svg" });
    const grids = [
      { left: 61, top: 26, width: 275, height: 153 },
      { left: 401, top: 26, width: 275, height: 153 },
      { left: 61, top: 244, width: 275, height: 154 },
      { left: 401, top: 244, width: 275, height: 154 },
    ];
    const isRight = (i: number) => i % 2 === 1;
    const lineStyle = { color: AX, width: 1 };
    const xAxes: any[] = [];
    const yAxes: any[] = [];
    for (let i = 0; i < 4; i++) {
      xAxes.push({
        gridIndex: i, type: "value", min: phaseRange[0], max: phaseRange[1], position: "bottom",
        axisLine: { show: true, onZero: false, lineStyle },
        axisTick: { show: true, inside: true, length: 3, customValues: phaseTicks, lineStyle },
        axisLabel: { show: true, customValues: phaseTicks, fontSize: 14, color: AX, fontFamily: FONT, margin: 7 },
        splitLine: { show: false },
        name: i >= 2 ? "Phase" : "", nameLocation: "middle", nameGap: 18,
        nameTextStyle: { fontSize: 15, color: AX, fontFamily: FONT },
      });
    }
    for (let i = 0; i < 4; i++) {
      xAxes.push({
        gridIndex: i, type: "value", min: phaseRange[0], max: phaseRange[1], position: "top",
        axisLine: { show: true, onZero: false, lineStyle },
        axisTick: { show: true, inside: true, length: 3, customValues: phaseTicks, lineStyle },
        axisLabel: { show: false }, splitLine: { show: false },
      });
    }
    for (let i = 0; i < 4; i++) {
      const r = isRight(i) ? magRange710 : magRange704;
      const t = isRight(i) ? magTicks710 : magTicks704;
      yAxes.push({
        gridIndex: i, type: "value", inverse: true, min: r[0], max: r[1], position: "left",
        axisLine: { show: true, onZero: false, lineStyle },
        axisTick: { show: true, inside: true, length: 3, customValues: t, lineStyle },
        axisLabel: { show: true, customValues: t, fontSize: 14, color: AX, fontFamily: FONT, margin: 5 },
        splitLine: { show: false },
        name: "Mag (I)", nameLocation: "middle", nameGap: 36, nameRotate: 90,
        nameTextStyle: { fontSize: 15, color: AX, fontFamily: FONT },
      });
    }
    for (let i = 0; i < 4; i++) {
      const r = isRight(i) ? magRange710 : magRange704;
      const t = isRight(i) ? magTicks710 : magTicks704;
      yAxes.push({
        gridIndex: i, type: "value", inverse: true, min: r[0], max: r[1], position: "right",
        axisLine: { show: true, onZero: false, lineStyle },
        axisTick: { show: true, inside: true, length: 3, customValues: t, lineStyle },
        axisLabel: { show: false }, splitLine: { show: false },
      });
    }
    const titleGraphics = titles.map((text, i) => ({
      type: "text",
      x: grids[i].left + grids[i].width / 2,
      y: i < 2 ? 17 : 234.5,
      z: 110,
      style: { text, fontSize: 13, fontWeight: "bold", fill: "#000", fontFamily: FONT, align: "center", verticalAlign: "middle" },
    }));
    chart.setOption({
      animation: false,
      backgroundColor: "#fff",
      grid: grids.map((g) => ({ ...g, containLabel: false, outerBoundsMode: "none" })),
      xAxis: xAxes,
      yAxis: yAxes,
      graphic: [
        { type: "rect", z: 100, silent: true, shape: { x: 0, y: 189.5, width: 697, height: 37 }, style: { fill: "#fff" } },
        ...titleGraphics,
      ],
      series: panelData.map((d, i) => ({
        type: "scatter", xAxisIndex: i, yAxisIndex: i, data: d,
        symbol: "circle", symbolSize: 2.7, itemStyle: { color: "#000" }, silent: true,
      })),
    });
    return () => chart.dispose();
  }, []);
  return <div ref={ref} style={{ position: "absolute", left: 0, top: 0, width: 697, height: 437, background: "#fff" }} />;
}
